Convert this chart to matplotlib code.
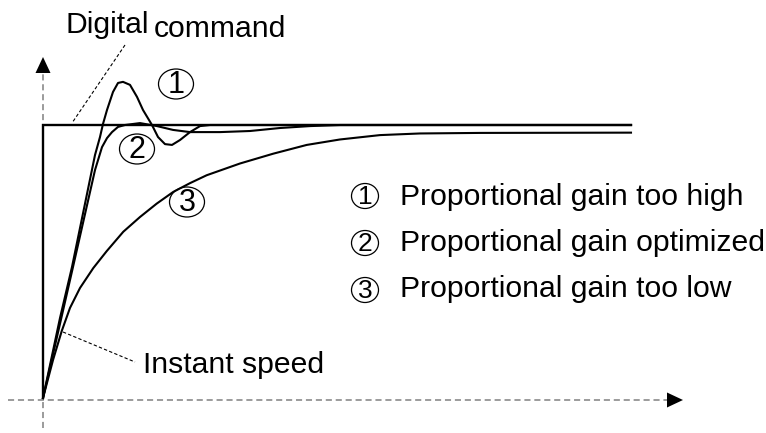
import matplotlib
matplotlib.use("Agg")
import matplotlib.pyplot as plt
from matplotlib.patches import Ellipse, Polygon

plt.rcParams['font.family'] = ['Liberation Sans', 'DejaVu Sans']

# time (arbitrary units) and speed (% of command)
t_cmd = [0, 0, 588]
v_cmd = [0, 100, 100]

t_high = [0, 17, 29, 52, 57, 60, 64, 70, 75, 80, 87, 94, 100, 109, 115,
          122, 129, 137, 147, 157, 167, 588]
v_high = [0, 29.3, 48.0, 89.0, 95.6, 100.4, 105.5, 112.1, 115.4, 115.8, 114.7,
          110.3, 105.5, 100, 95.6, 93.0, 92.7, 94.5, 97.4, 99.6, 100, 100]

t_opt = [0, 30, 52, 59, 64, 69, 75, 82, 97, 114, 130, 147, 177, 207, 237,
         267, 297, 588]
v_opt = [0, 48.0, 83.5, 91.9, 95.2, 97.4, 99.3, 100, 100.7, 99.6, 98.2, 97.4,
         97.4, 97.8, 98.9, 99.6, 100, 100]

t_low = [0, 10, 18.7, 27, 37, 50.3, 63.7, 80.3, 97, 113.7, 130.3, 147, 163.7,
         197, 230.3, 263.7, 297, 337, 377, 437, 588]
v_low = [0, 13.9, 24.5, 33.0, 40.3, 47.6, 53.8, 60.9, 66.3, 71.2, 75.5, 78.7,
         81.6, 85.9, 89.5, 92.7, 94.7, 96.3, 96.9, 97.1, 97.2]

legend_labels = ["Proportional gain too high",
                 "Proportional gain optimized",
                 "Proportional gain too low"]
numbers = ["1", "2", "3"]

# pixel layout -> data coords
OX, OY, SY = 43, 398, 2.73


def px(x, y):
    return x - OX, (OY - y) / SY


fig = plt.figure(figsize=(7.66, 4.33), dpi=100)
ax = fig.add_axes([0, 0, 1, 1])
ax.set_xlim(-OX, 766 - OX)
ax.set_ylim((OY - 433) / SY, OY / SY)
ax.axis('off')

grey = '#808080'
# axes (dashed, with arrow heads)
x0, y0 = px(8, 400)
x1, _ = px(667, 400)
ax.plot([x0, x1], [y0, y0], color=grey, lw=1.1, dashes=(4, 2.5))
ax.add_patch(Polygon([px(667, 392.5), px(683, 400), px(667, 407.5)],
                     closed=True, color='black', lw=0))
xa, ya0 = px(43, 428)
_, ya1 = px(43, 73)
ax.plot([xa, xa], [ya0, ya1], color=grey, lw=1.1, dashes=(4, 2.5))
ax.add_patch(Polygon([px(35.5, 73), px(43, 57), px(50.5, 73)],
                     closed=True, color='black', lw=0))

# curves
ax.plot(t_cmd, v_cmd, color='black', lw=1.7, solid_joinstyle='miter')
ax.plot(t_high, v_high, color='black', lw=1.5)
ax.plot(t_opt, v_opt, color='black', lw=1.5)
ax.plot(t_low, v_low, color='black', lw=1.5)

# leader lines
for (a, b) in [((125, 45), (72, 123)), ((63, 332), (135, 362))]:
    pa, pb = px(*a), px(*b)
    ax.plot([pa[0], pb[0]], [pa[1], pb[1]], color='black', lw=0.8, dashes=(3, 2))

fs = 21.7
ax.text(*px(65, 33), "Digital", fontsize=fs, va='baseline', ha='left')
ax.text(*px(154, 37), "command", fontsize=fs, va='baseline', ha='left')
ax.text(*px(143, 373), "Instant speed", fontsize=fs, va='baseline', ha='left')

# circled numbers on the curves
for (cx, cy), n in zip([(176, 84), (137, 149), (187, 202)], numbers):
    c = px(cx, cy)
    ax.add_patch(Ellipse(c, 35, 30 / SY, fill=False, ec='black', lw=0.9))
    ax.text(c[0], c[1] - 0.3, n, fontsize=22, ha='center', va='center')

# legend
for i, (lab, n) in enumerate(zip(legend_labels, numbers)):
    c = px(365, 196 + 47 * i)
    ax.add_patch(Ellipse(c, 27, 25 / SY, fill=False, ec='black', lw=0.9))
    ax.text(c[0], c[1] - 0.3, n, fontsize=19, ha='center', va='center')
    ax.text(*px(400, 205 + 46 * i), lab, fontsize=fs, va='baseline', ha='left')

fig.savefig('out.png', dpi=100)
